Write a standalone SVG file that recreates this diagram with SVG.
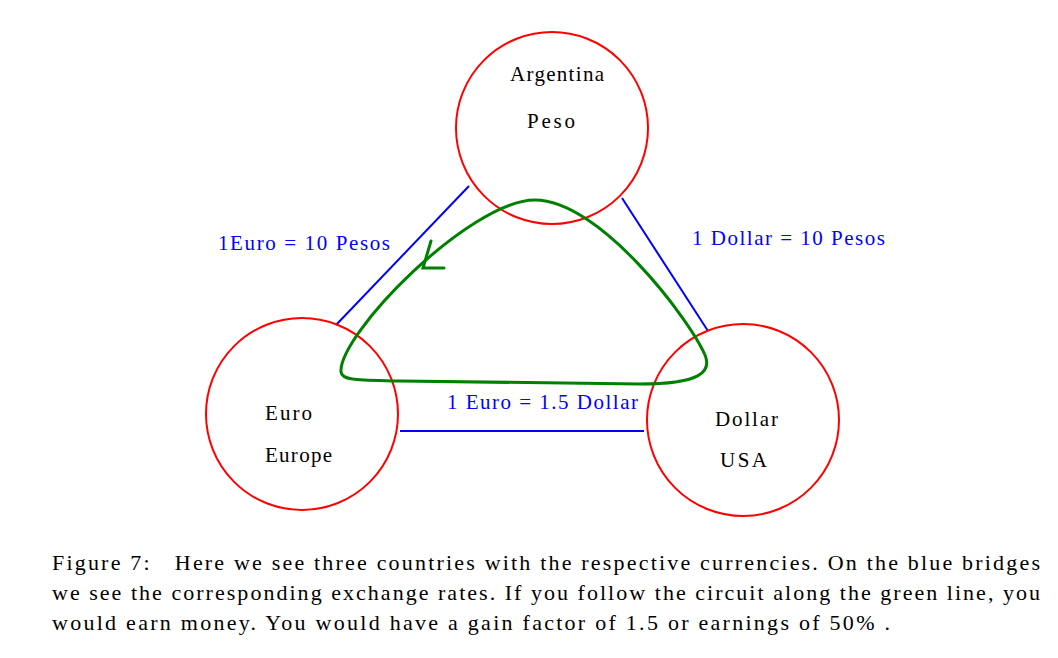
<svg xmlns="http://www.w3.org/2000/svg" width="1058" height="658" viewBox="0 0 1058 658">
<style>
.n{fill:none;stroke:#ff0000;stroke-width:2}
.t{font-family:"Liberation Serif",serif;font-size:21px;fill:#000}
.b{font-family:"Liberation Serif",serif;font-size:21px;fill:#0000ff}
.c{font-family:"Liberation Serif",serif;font-size:22px;fill:#000}
</style>
<rect width="1058" height="658" fill="#fff"/>
<g id="connectors" stroke="#0000ff" stroke-width="2">
<line x1="469" y1="186" x2="336" y2="325"/>
<line x1="622" y1="198" x2="708" y2="331"/>
<line x1="400" y1="431" x2="644" y2="431"/>
</g>
<g id="argentina"><circle class="n" cx="552" cy="128" r="96"/><text class="t" x="510" y="81" textLength="94">Argentina</text><text class="t" x="527" y="128" textLength="48">Peso</text></g>
<g id="euro"><circle class="n" cx="302" cy="414" r="96"/><text class="t" x="265" y="420" textLength="47">Euro</text><text class="t" x="265" y="462" textLength="67">Europe</text></g>
<g id="dollar"><circle class="n" cx="743" cy="420" r="96"/><text class="t" x="715" y="426" textLength="63">Dollar</text><text class="t" x="720" y="467" textLength="47">USA</text></g>
<g id="labels">
<text class="b" x="218" y="250" textLength="172">1Euro = 10 Pesos</text>
<text class="b" x="692" y="245" textLength="193">1 Dollar = 10 Pesos</text>
<text class="b" x="447" y="409" textLength="191">1 Euro = 1.5 Dollar</text>
</g>
<g id="circuit" fill="none" stroke="#008000" stroke-width="3" stroke-linecap="round">
<path d="M535,200 C470,200 338,335 341,372 C342,381 360,380 400,381 L640,384 C700,384 712,372 705,355 C690,320 600,200 535,200 Z"/>
<path d="M431,241 L423,268 L444,268"/>
</g>
<g id="caption">
<text class="c" x="52" y="570" textLength="988" xml:space="preserve">Figure 7:   Here we see three countries with the respective currencies. On the blue bridges</text>
<text class="c" x="52" y="600" textLength="988">we see the corresponding exchange rates. If you follow the circuit along the green line, you</text>
<text class="c" x="52" y="630" textLength="838">would earn money. You would have a gain factor of 1.5 or earnings of 50% .</text>
</g>
</svg>
